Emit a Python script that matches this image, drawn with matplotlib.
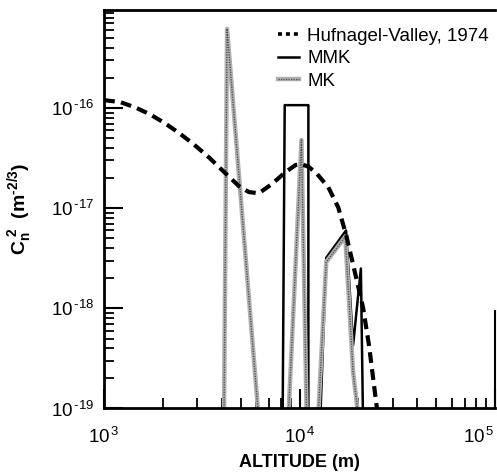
import matplotlib
matplotlib.use('Agg')
import matplotlib.pyplot as plt
from matplotlib.lines import Line2D
from matplotlib.legend_handler import HandlerTuple
from matplotlib.ticker import LogLocator, NullFormatter

plt.rcParams['font.family'] = ['Liberation Sans', 'DejaVu Sans']
plt.rcParams['mathtext.fontset'] = 'custom'
plt.rcParams['mathtext.rm'] = 'Liberation Sans'
plt.rcParams['mathtext.it'] = 'Liberation Sans:italic'
plt.rcParams['mathtext.bf'] = 'Liberation Sans:bold'

nan = float('nan')

# Hufnagel-Valley 1974 model
hv_alt = [1000, 1206, 1437, 1712, 2040, 2431, 2897, 3452, 4114, 4902, 5510,
          6194, 7211, 8489, 9544, 10237, 11108, 12200, 14037, 15776, 17326,
          19250, 21130, 22660, 24600, 25180]
hv_cn2 = [1.20e-16, 1.15e-16, 1.02e-16, 8.7e-17, 7.1e-17, 5.6e-17, 4.3e-17,
          3.2e-17, 2.3e-17, 1.66e-17, 1.45e-17, 1.41e-17, 1.74e-17, 2.3e-17,
          2.7e-17, 2.75e-17, 2.6e-17, 2.24e-17, 1.62e-17, 1.02e-17, 5.4e-18,
          2.24e-18, 1.02e-18, 4.3e-19, 1.2e-19, 8.5e-20]

# MMK profile (nan separates the separate layers)
mmk_alt = [8200, 8400, 11100, 11100, nan, 12800, 13700, 17300, 18800, 20600, 21100]
mmk_cn2 = [9e-20, 1.07e-16, 1.07e-16, 9e-20, nan, 9e-20, 3.2e-18, 6.0e-18,
           4.3e-19, 2.5e-18, 9e-20]

# MK profile
mk_alt = [4110, 4260, 6150, nan, 8790, 10230, 10870, nan, 12480, 13700, 17140,
          18800, 19900]
mk_cn2 = [9e-20, 6.2e-16, 9e-20, nan, 9e-20, 4.8e-17, 9e-20, nan, 9e-20,
          2.9e-18, 5.2e-18, 2.3e-19, 9e-20]

x_ticks = [1e3, 1e4, 1e5]
x_labels = ['$10^{\\,3}$', '$10^{\\,4}$', '$10^{\\,5}$']
y_ticks = [1e-19, 1e-18, 1e-17, 1e-16]
y_labels = ['$10^{\\,\u201019}$', '$10^{\\,\u201018}$',
            '$10^{\\,\u201017}$', '$10^{\\,\u201016}$']

fig = plt.figure(figsize=(4.97, 4.74), dpi=100)
ax = fig.add_axes([0.2093, 0.1382, 0.7867, 0.8408])

ax.plot(hv_alt, hv_cn2, color='black', lw=3.0, linestyle=(0, (2.6, 1.5)),
        zorder=3)
ax.plot(mmk_alt, mmk_cn2, color='black', lw=1.8, zorder=2)
ax.plot(mk_alt, mk_cn2, color='#b0b0b0', lw=3.2, zorder=2.2)
ax.plot(mk_alt, mk_cn2, color='#505050', lw=1.0, linestyle=(0, (0.9, 0.9)),
        zorder=2.3)

ax.set_xscale('log')
ax.set_yscale('log')
ax.set_xlim(1e3, 1e5)
ax.set_ylim(1e-19, 9.55e-16)

ax.set_xticks(x_ticks)
ax.set_xticklabels(x_labels, fontsize=13.5)
ax.set_yticks(y_ticks)
ax.set_yticklabels(y_labels, fontsize=13.5)
ax.xaxis.set_minor_locator(LogLocator(base=10, subs=range(2, 10)))
ax.yaxis.set_minor_locator(LogLocator(base=10, subs=range(2, 10), numticks=20))
ax.xaxis.set_minor_formatter(NullFormatter())
ax.yaxis.set_minor_formatter(NullFormatter())
ax.get_xticklabels()[-1].set_ha('right')

ax.tick_params(which='major', direction='in', length=14, width=1.5,
               top=False, right=False, pad=7)
ax.tick_params(which='minor', direction='in', length=7, width=1.3,
               top=False, right=False)
ax.tick_params(axis='x', which='major', pad=13)

for s in ['left', 'bottom', 'top']:
    ax.spines[s].set_linewidth(2.0)
    ax.spines[s].set_zorder(4)
ax.spines['right'].set_linewidth(1.5)
ax.spines['right'].set_bounds(1e-19, 9.5e-19)

ax.set_xlabel('ALTITUDE (m)', fontsize=13, fontweight='bold', labelpad=5)
ax.set_ylabel('$\\mathbf{C_n^{\\ 2}\\ \\ (m^{\u20102/3})}$', fontsize=14,
              labelpad=12)

h_hv = Line2D([], [], color='black', lw=2.6, linestyle=(0, (1.1, 1.1)))
h_mmk = Line2D([], [], color='black', lw=1.8)
h_mk1 = Line2D([], [], color='#b0b0b0', lw=3.2)
h_mk2 = Line2D([], [], color='#505050', lw=1.0, linestyle=(0, (0.9, 0.9)))
ax.legend([h_hv, h_mmk, (h_mk1, h_mk2)],
          ['Hufnagel-Valley, 1974', 'MMK', 'MK'],
          handler_map={tuple: HandlerTuple(ndivide=1, pad=0)},
          loc='upper left', bbox_to_anchor=(0.445, 0.955), frameon=False,
          fontsize=13.5, handlelength=1.1, handletextpad=0.45,
          labelspacing=0.28, borderaxespad=0, borderpad=0)

fig.savefig('out.png', dpi=100)
